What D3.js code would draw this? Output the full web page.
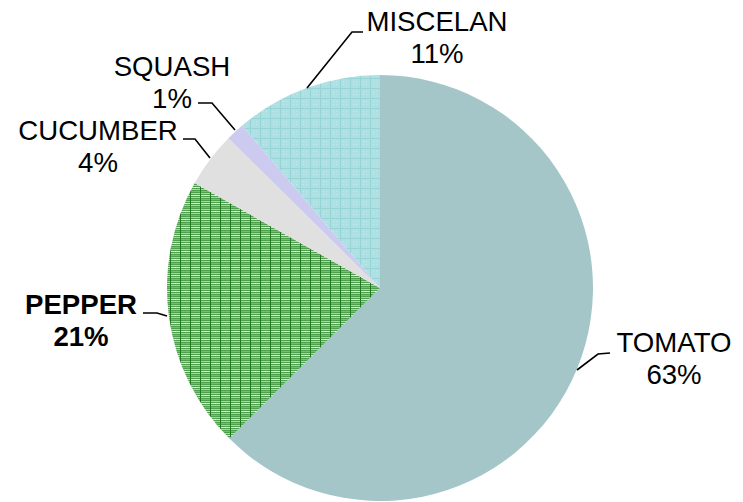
<!DOCTYPE html>
<html><head><meta charset="utf-8">
<script src="https://cdn.jsdelivr.net/npm/d3@7"></script>
<style>body{margin:0;background:#fff}svg{display:block}</style>
</head><body><svg id="c" width="743" height="502"></svg>
<script>
const categories = ["TOMATO", "PEPPER", "CUCUMBER", "SQUASH", "MISCELAN"];
const values = [62.5, 20.7, 4.2, 1.4, 11.2];
const percentLabels = ["63%", "21%", "4%", "1%", "11%"];
const boldLabel = [false, true, false, false, false];

const svg = d3.select("#c");
const defs = svg.append("defs");

// pepper pattern
const pp = defs.append("pattern").attr("id","pPepper").attr("patternUnits","userSpaceOnUse")
  .attr("width",10).attr("height",8).attr("x",0).attr("y",0);
pp.append("rect").attr("width",10).attr("height",8).attr("fill","#4f9f4f");
[[1,"#a9d6a9"],[3,"#cfe8cf"],[5,"#a9d6a9"],[7,"#78bb78"]].forEach(([y,c])=>pp.append("rect").attr("x",0).attr("y",y).attr("width",10).attr("height",1).attr("fill",c));
pp.append("rect").attr("x",0).attr("y",0).attr("width",1).attr("height",8).attr("fill","#1f7a1f");
pp.append("rect").attr("x",5).attr("y",3).attr("width",1).attr("height",1).attr("fill","#ffffff");

// miscelan pattern
const pm = defs.append("pattern").attr("id","pMisc").attr("patternUnits","userSpaceOnUse")
  .attr("width",10).attr("height",10);
pm.append("rect").attr("width",10).attr("height",10).attr("fill","#ade0e2");
pm.append("rect").attr("x",0).attr("y",0).attr("width",10).attr("height",1).attr("fill","#98d3d6");
pm.append("rect").attr("x",0).attr("y",0).attr("width",1).attr("height",10).attr("fill","#98d3d6");
[[3,3],[6,3],[3,6],[6,6]].forEach(([x,y])=>pm.append("rect").attr("x",x).attr("y",y).attr("width",1).attr("height",1).attr("fill","#c3e9eb"));

const fills = ["#a5c6c8", "url(#pPepper)", "#e0e0e0", "#cccbef", "url(#pMisc)"];

const cx = 380, cy = 288, r = 213;
const pie = d3.pie().sort(null).value(d=>d);
const arcs = pie(values);
const arc = d3.arc().innerRadius(0).outerRadius(r);
const g = svg.append("g").attr("transform",`translate(${cx},${cy})`);
g.selectAll("path").data(arcs).join("path").attr("d",arc).attr("fill",(d,i)=>fills[i]);

// label positions (text centre x, baseline of first line) and leader polylines
const labelPos = [
  {x:674, y:352, line:[[610,353],[598,354],[577,370]]},
  {x:81, y:314, line:[[143,313],[157,313],[167,316]]},
  {x:98, y:140, line:[[183,139],[195,139],[210,158]]},
  {x:172, y:76, line:[[198,103],[212,103],[235,130]]},
  {x:437, y:31, line:[[363,32],[352,32],[307,88]]}
];
const line = d3.line();
svg.selectAll("path.leader").data(labelPos).join("path").attr("class","leader")
  .attr("d",d=>line(d.line)).attr("fill","none").attr("stroke","#000").attr("stroke-width",1.6);

const t = svg.selectAll("text.lbl").data(categories).join("text").attr("class","lbl")
  .attr("text-anchor","middle")
  .attr("font-family","'Liberation Sans', Arial, sans-serif")
  .attr("font-size",27.6)
  .attr("font-weight",(d,i)=>boldLabel[i]?"bold":"normal")
  .attr("fill","#000");
t.append("tspan").attr("x",(d,i)=>labelPos[i].x).attr("y",(d,i)=>labelPos[i].y).text(d=>d);
t.append("tspan").attr("x",(d,i)=>labelPos[i].x).attr("y",(d,i)=>labelPos[i].y+32).text((d,i)=>percentLabels[i]);
</script></body></html>
